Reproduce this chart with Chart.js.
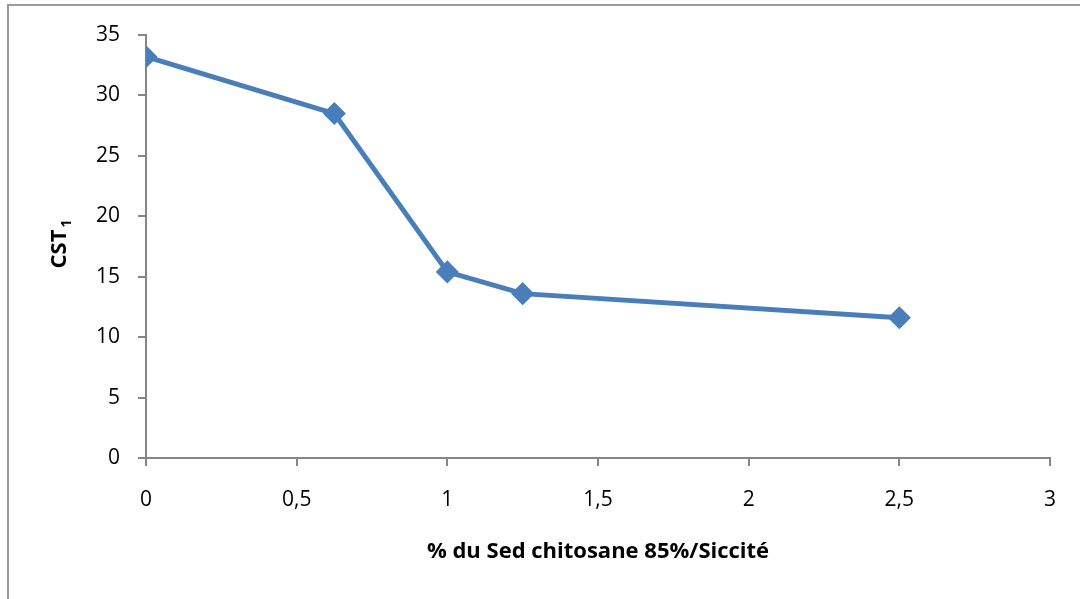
<!DOCTYPE html>
<html>
<head>
<meta charset="utf-8">
<script src="https://cdn.jsdelivr.net/npm/chart.js@4"></script>
<style>
  html, body { margin: 0; padding: 0; background: #fff; overflow: hidden; }
  #wrap { position: relative; width: 1080px; height: 599px; }
  #frame { position: absolute; left: 7px; top: 4px; width: 1200px; height: 800px;
           border-left: 2px solid #9a9a9a; border-top: 2px solid #9a9a9a; box-sizing: border-box; }
  canvas { position: absolute; left: 0; top: 0; }
</style>
</head>
<body>
<div id="wrap">
  <div id="frame"></div>
  <canvas id="c" width="1080" height="599"></canvas>
</div>
<script>
const xValues = [0, 0.625, 1, 1.25, 2.5];
const cstValues = [33.2, 28.5, 15.4, 13.6, 11.6];
const xTickLabels = ['0', '0,5', '1', '1,5', '2', '2,5', '3'];
const yTickLabels = ['0', '5', '10', '15', '20', '25', '30', '35'];
const xTitle = '% du Sed chitosane 85%/Siccité';
const yTitleMain = 'CST';
const yTitleSub = '1';

const FONT = '"Open Sans", "Liberation Sans", sans-serif';
const axisColor = '#868686';
const lineColor = '#4a7ebb';

const titlesPlugin = {
  id: 'titles',
  afterDraw(chart) {
    const ctx = chart.ctx;
    const a = chart.chartArea;
    ctx.save();
    ctx.fillStyle = '#000';
    ctx.font = 'bold 22px ' + FONT;
    ctx.textAlign = 'center';
    ctx.textBaseline = 'middle';
    ctx.fillText(xTitle, (a.left + a.right) / 2, 552);
    // y title rotated with subscript
    ctx.textBaseline = 'alphabetic';
    ctx.translate(66, 244);
    ctx.rotate(-Math.PI / 2);
    ctx.font = 'bold 22px ' + FONT;
    const wMain = ctx.measureText(yTitleMain).width;
    ctx.font = 'bold 14px ' + FONT;
    const wSub = ctx.measureText(yTitleSub).width;
    const total = wMain + wSub + 2;
    ctx.textAlign = 'left';
    ctx.font = 'bold 22px ' + FONT;
    ctx.fillText(yTitleMain, -total / 2, 0);
    ctx.font = 'bold 14px ' + FONT;
    ctx.fillText(yTitleSub, -total / 2 + wMain + 2, 5);
    ctx.restore();
  }
};

new Chart(document.getElementById('c'), {
  type: 'line',
  data: {
    datasets: [{
      data: xValues.map((x, i) => ({ x: x, y: cstValues[i] })),
      borderColor: lineColor,
      backgroundColor: lineColor,
      borderWidth: 5,
      pointStyle: 'rectRot',
      pointRadius: 8,
      pointHoverRadius: 8,
      tension: 0,
      fill: false
    }]
  },
  options: {
    responsive: false,
    animation: false,
    events: [],
    layout: { padding: { top: 35, right: 30, left: 0, bottom: 0 } },
    plugins: { legend: { display: false }, tooltip: { enabled: false } },
    scales: {
      x: {
        type: 'linear',
        min: 0, max: 3,
        afterBuildTicks(s) { s.ticks = xTickLabels.map((_, i) => ({ value: i * 0.5 })); },
        afterFit(s) { s.height = 141; },
        border: { display: true, color: axisColor, width: 2 },
        grid: { drawOnChartArea: false, drawTicks: true, tickLength: 8, color: axisColor, lineWidth: 2 },
        ticks: {
          padding: 21,
          color: '#000',
          font: { family: FONT, size: 21 },
          maxRotation: 0,
          callback: (v, i) => xTickLabels[i]
        }
      },
      y: {
        type: 'linear',
        min: 0, max: 35,
        afterBuildTicks(s) { s.ticks = yTickLabels.map((_, i) => ({ value: i * 5 })); },
        afterFit(s) { s.width = 146; },
        border: { display: true, color: axisColor, width: 2 },
        grid: { drawOnChartArea: false, drawTicks: true, tickLength: 8, color: axisColor, lineWidth: 2 },
        ticks: {
          padding: 18,
          color: '#000',
          font: { family: FONT, size: 21 },
          callback: (v, i) => yTickLabels[i]
        }
      }
    }
  },
  plugins: [titlesPlugin]
});
</script>
</body>
</html>
